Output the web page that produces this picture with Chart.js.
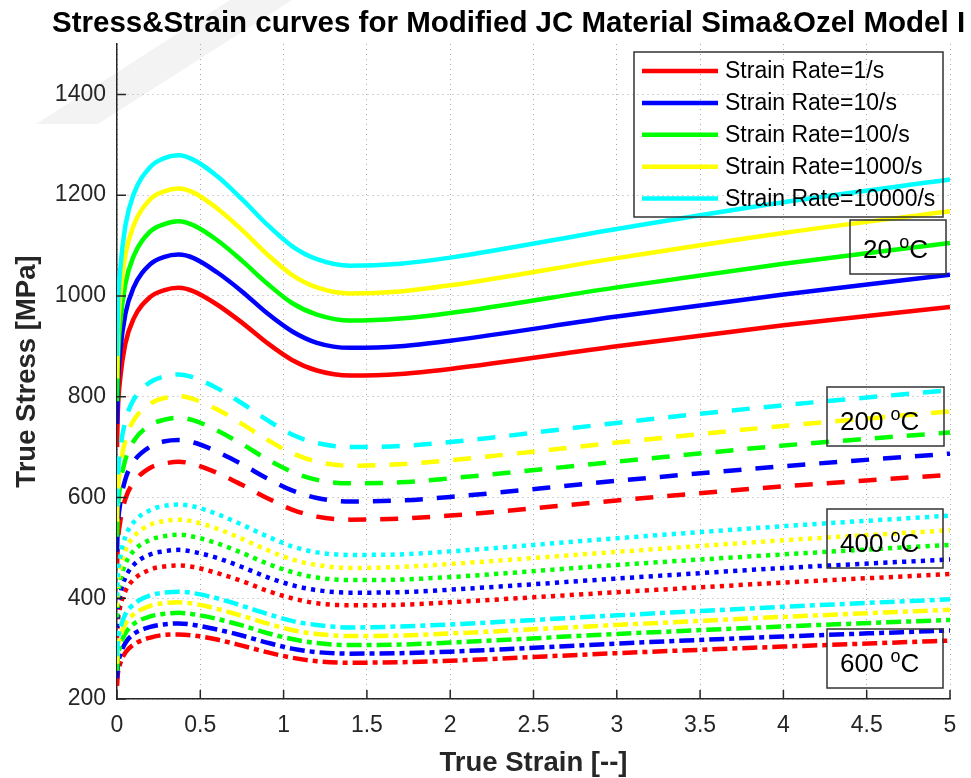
<!DOCTYPE html>
<html>
<head>
<meta charset="utf-8">
<title>Stress&amp;Strain curves</title>
<script src="https://cdn.jsdelivr.net/npm/chart.js@4.4.1/dist/chart.umd.min.js"></script>
<style>
  html, body { margin: 0; padding: 0; background: #ffffff; }
  #wrap { width: 971px; height: 778px; }
</style>
</head>
<body>
<div id="wrap"><canvas id="jcChart" width="971" height="778"></canvas></div>
<script>
// strain points shared by every curve
const strain = [0, 0.005, 0.02, 0.05, 0.1, 0.2, 0.28, 0.37, 0.46, 0.6, 0.75, 0.9, 1.05, 1.2, 1.4, 1.7, 2, 3, 4, 5];

const rateLabels = ['Strain Rate=1/s', 'Strain Rate=10/s', 'Strain Rate=100/s', 'Strain Rate=1000/s', 'Strain Rate=10000/s'];
const tempLabels = ['20', '200', '400', '600'];

const xTickValues = [0, 0.5, 1, 1.5, 2, 2.5, 3, 3.5, 4, 4.5, 5];
const yTickValues = [200, 400, 600, 800, 1000, 1200, 1400];

// true stress [MPa], one row per strain rate: 1, 10, 100, 1000, 10000 /s
const stress20C = [
    [700, 770, 838, 905, 955, 998, 1011, 1016, 1009, 983, 947, 907, 873, 852, 842, 845, 855, 900, 942, 978],
    [746, 820, 892, 964, 1017, 1063, 1077, 1082, 1075, 1047, 1009, 966, 930, 907, 897, 900, 911, 959, 1003, 1042],
    [791, 870, 947, 1023, 1079, 1128, 1142, 1148, 1140, 1111, 1070, 1025, 986, 963, 951, 955, 966, 1017, 1064, 1105],
    [836, 919, 1001, 1081, 1140, 1192, 1207, 1213, 1205, 1174, 1131, 1083, 1042, 1017, 1005, 1009, 1021, 1075, 1125, 1168],
    [881, 969, 1055, 1139, 1202, 1256, 1273, 1279, 1270, 1238, 1192, 1142, 1099, 1073, 1060, 1064, 1076, 1133, 1186, 1231]
];
const stress200C = [
    [462, 508, 553, 597, 630, 659, 667, 671, 666, 649, 625, 599, 576, 562, 556, 558, 564, 594, 622, 645],
    [492, 541, 589, 636, 671, 701, 711, 714, 709, 691, 666, 638, 614, 599, 592, 594, 601, 633, 662, 687],
    [522, 574, 625, 675, 712, 744, 754, 758, 753, 733, 706, 676, 651, 635, 628, 630, 638, 671, 703, 729],
    [552, 607, 660, 713, 753, 786, 797, 801, 795, 775, 746, 715, 688, 671, 663, 666, 674, 709, 742, 771],
    [582, 640, 696, 752, 794, 829, 840, 844, 838, 817, 787, 754, 725, 708, 700, 702, 710, 748, 783, 813]
];
const stress400C = [
    [321, 353, 384, 414, 437, 457, 463, 465, 462, 450, 434, 415, 400, 390, 386, 387, 392, 412, 431, 448],
    [341, 376, 409, 441, 466, 487, 493, 496, 492, 480, 462, 442, 426, 416, 411, 412, 417, 439, 460, 477],
    [362, 398, 434, 468, 494, 516, 523, 526, 522, 509, 490, 469, 452, 441, 436, 437, 442, 466, 487, 506],
    [383, 421, 458, 495, 522, 546, 553, 556, 552, 538, 518, 496, 477, 466, 460, 462, 468, 492, 515, 535],
    [404, 444, 483, 522, 551, 575, 583, 586, 582, 567, 546, 523, 503, 491, 486, 487, 493, 519, 543, 564]
];
const stress600C = [
    [226, 249, 271, 292, 308, 322, 327, 328, 326, 318, 306, 293, 282, 275, 272, 273, 276, 291, 304, 316],
    [241, 265, 288, 311, 329, 343, 348, 350, 347, 338, 326, 312, 300, 293, 290, 291, 294, 310, 324, 336],
    [256, 281, 306, 330, 349, 364, 369, 371, 368, 359, 346, 331, 319, 311, 307, 308, 312, 329, 344, 357],
    [270, 297, 323, 349, 368, 385, 390, 392, 389, 379, 365, 350, 337, 329, 325, 326, 330, 347, 363, 377],
    [285, 313, 341, 368, 388, 406, 411, 413, 410, 400, 385, 369, 355, 347, 342, 344, 348, 366, 383, 398]
];

const FONT = '"Liberation Sans", Arial, Helvetica, sans-serif';
const rateColors = ['#ff0000', '#0000ff', '#00ff00', '#ffff00', '#00ffff'];
const dashByTemp = [[], [18, 14], [4.2, 5.2], [15, 5, 5, 5]];

// 20 curves: solid / dashed / dotted / dash-dot per temperature
const stressByTemp = [stress20C, stress200C, stress400C, stress600C];
const datasets = [];
stressByTemp.forEach(function (rows, t) {
    rows.forEach(function (row, r) {
        datasets.push({
            label: rateLabels[r] + ', ' + tempLabels[t] + ' °C',
            data: strain.map(function (x, i) { return { x: x, y: row[i] }; }),
            borderColor: rateColors[r],
            borderWidth: 4.5,
            borderDash: dashByTemp[t],
            pointRadius: 0,
            cubicInterpolationMode: 'monotone',
            fill: false,
            // later curves on top
            order: 100 - datasets.length
        });
    });
});

// temperature text boxes (pixel layout)
const tempBoxes = [
    { text: '20',  x: 850, y: 220, w: 96,  h: 54 },
    { text: '200', x: 827, y: 387, w: 117, h: 59 },
    { text: '400', x: 827, y: 509, w: 116, h: 59 },
    { text: '600', x: 827, y: 629, w: 116, h: 59 }
];

function isMajor(list, v) {
    return list.some(function (t) { return Math.abs(t - v) < 1e-9; });
}

const decorations = {
    id: 'decorations',
    beforeDraw(chart) {
        // faint background stamp in the top left corner
        const ctx = chart.ctx;
        ctx.save();
        ctx.fillStyle = '#f3f3f3';
        ctx.beginPath();
        ctx.moveTo(36, 124);
        ctx.lineTo(98, 124);
        ctx.lineTo(292, 0);
        ctx.lineTo(230, 0);
        ctx.closePath();
        ctx.fill();
        ctx.restore();
    },
    afterDatasetsDraw(chart) {
        const ctx = chart.ctx;
        const a = chart.chartArea;
        const xs = chart.scales.x;
        const ys = chart.scales.y;

        ctx.save();
        // inward tick marks
        ctx.strokeStyle = '#262626';
        ctx.lineWidth = 1.5;
        ctx.beginPath();
        xTickValues.forEach(function (v) {
            const px = xs.getPixelForValue(v);
            ctx.moveTo(px, a.bottom);
            ctx.lineTo(px, a.bottom - 9);
        });
        yTickValues.forEach(function (v) {
            const py = ys.getPixelForValue(v);
            ctx.moveTo(a.left, py);
            ctx.lineTo(a.left + 9, py);
        });
        ctx.stroke();

        // legend (transparent, framed)
        ctx.strokeStyle = '#333333';
        ctx.lineWidth = 1.5;
        ctx.strokeRect(634, 52, 309, 165);
        ctx.font = '23px ' + FONT;
        ctx.textBaseline = 'middle';
        ctx.textAlign = 'left';
        for (let r = 0; r < 5; r++) {
            const cy = 71 + r * 31.9;
            ctx.strokeStyle = datasets[r].borderColor;
            ctx.lineWidth = 4.5;
            ctx.beginPath();
            ctx.moveTo(642, cy);
            ctx.lineTo(718, cy);
            ctx.stroke();
            ctx.fillStyle = '#000000';
            ctx.fillText(rateLabels[r], 725, cy + 1);
        }

        // temperature boxes
        ctx.textBaseline = 'alphabetic';
        tempBoxes.forEach(function (b) {
            ctx.strokeStyle = '#333333';
            ctx.lineWidth = 1.5;
            ctx.strokeRect(b.x, b.y, b.w, b.h);
            const base = b.y + b.h - 16;
            let x0 = b.x + 13;
            ctx.fillStyle = '#000000';
            ctx.font = '26px ' + FONT;
            const lead = b.text + ' ';
            ctx.fillText(lead, x0, base);
            x0 += ctx.measureText(lead).width;
            ctx.font = '18px ' + FONT;
            ctx.fillText('o', x0, base - 10);
            x0 += ctx.measureText('o').width;
            ctx.font = '26px ' + FONT;
            ctx.fillText('C', x0, base);
        });
        ctx.restore();
    },
    afterDraw(chart) {
        const ctx = chart.ctx;
        ctx.save();
        ctx.font = 'bold 29.5px ' + FONT;
        ctx.fillStyle = '#000000';
        ctx.textAlign = 'left';
        ctx.textBaseline = 'alphabetic';
        ctx.fillText('Stress&Strain curves for Modified JC Material Sima&Ozel Model I', 52, 32);
        ctx.restore();
    }
};

const gridStyle = { color: '#a8a8a8', lineWidth: 1, drawTicks: false };

new Chart(document.getElementById('jcChart').getContext('2d'), {
    type: 'line',
    data: { datasets: datasets },
    plugins: [decorations],
    options: {
        responsive: false,
        animation: false,
        devicePixelRatio: 1,
        layout: { padding: { top: 44, right: 21, left: 0, bottom: 0 } },
        plugins: {
            legend: { display: false },
            title: { display: false },
            tooltip: { enabled: false }
        },
        scales: {
            x: {
                type: 'linear',
                min: 0,
                max: 5,
                grid: gridStyle,
                border: { display: true, color: '#262626', width: 1.5, dash: [1, 4] },
                ticks: {
                    stepSize: 0.1,
                    autoSkip: false,
                    maxRotation: 0,
                    padding: 13,
                    color: '#262626',
                    font: { family: FONT, size: 23 },
                    callback: function (v) { return isMajor(xTickValues, v) ? String(Math.round(v * 10) / 10) : null; }
                },
                title: {
                    display: true,
                    text: 'True Strain [--]',
                    color: '#262626',
                    font: { family: FONT, size: 27.5, weight: 'bold', lineHeight: 1 },
                    padding: { top: 0, bottom: 1 }
                },
                afterFit: function (s) { s.height = 79; }
            },
            y: {
                type: 'linear',
                min: 200,
                max: 1500,
                grid: gridStyle,
                border: { display: true, color: '#262626', width: 1.5, dash: [1, 4] },
                ticks: {
                    stepSize: 50,
                    autoSkip: false,
                    padding: 11,
                    color: '#262626',
                    font: { family: FONT, size: 23 },
                    callback: function (v) { return isMajor(yTickValues, v) ? String(v) : null; }
                },
                title: {
                    display: true,
                    text: 'True Stress [MPa]',
                    color: '#262626',
                    font: { family: FONT, size: 27.5, weight: 'bold', lineHeight: 1 },
                    padding: { top: 14, bottom: 0 }
                },
                afterFit: function (s) { s.width = 117; }
            }
        }
    }
});
</script>
</body>
</html>
